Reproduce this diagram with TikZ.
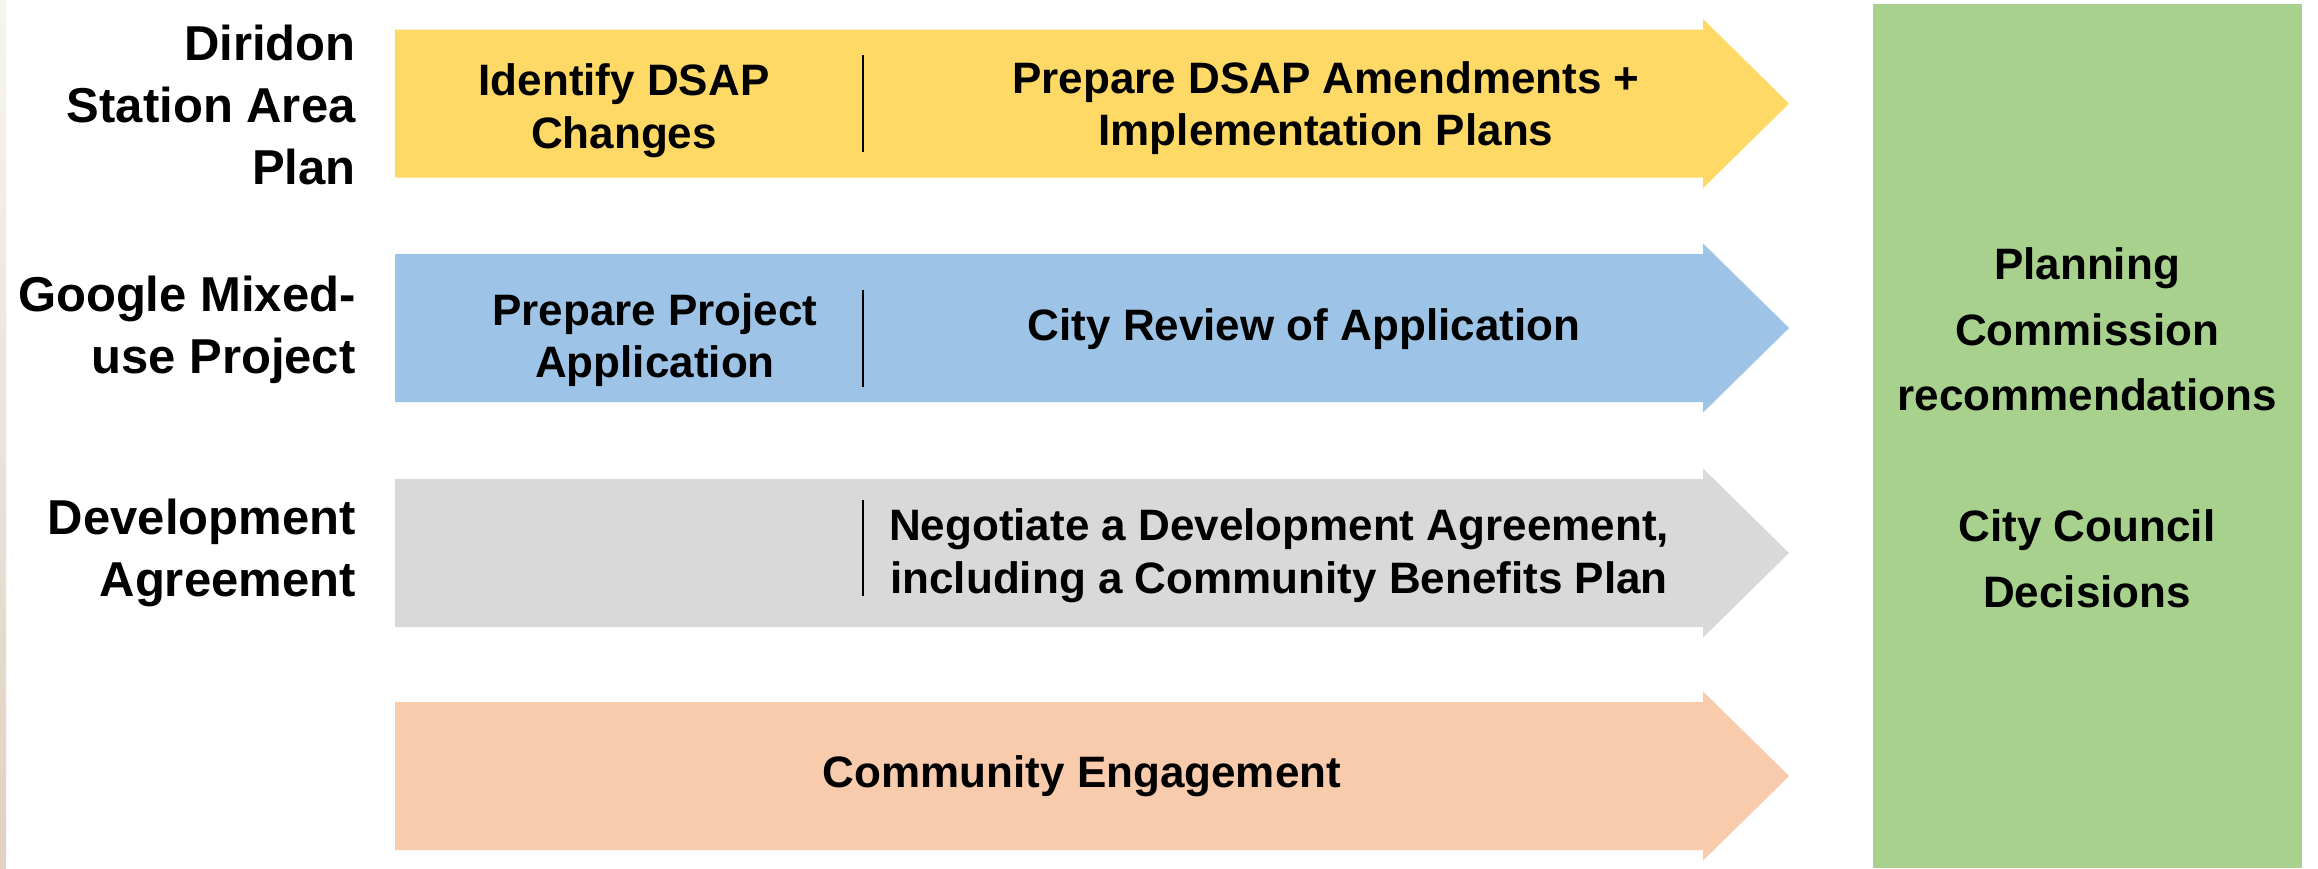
\documentclass[tikz,border=0pt]{standalone}
\usepackage{fontspec}
\setmainfont{Liberation Sans}
\definecolor{ylw}{HTML}{FFD966}
\definecolor{blu}{HTML}{9DC3E6}
\definecolor{gry}{HTML}{D9D9D9}
\definecolor{org}{HTML}{F8CBAD}
\definecolor{grn}{HTML}{A9D18E}
\definecolor{stripA}{HTML}{F7F4F0}
\definecolor{stripB}{HTML}{E0D1C2}
\begin{document}
\begin{tikzpicture}[x=0.5pt,y=-0.5pt,
  lbl/.style={font=\fontsize{24.5}{30.8}\selectfont\bfseries, align=right, anchor=east, inner sep=0pt},
  txt/.style={font=\fontsize{22}{26.3}\selectfont\bfseries, align=center, inner sep=0pt},
  dectxt/.style={font=\fontsize{22}{32.75}\selectfont\bfseries, align=center, inner sep=0pt},
  divider/.style={line width=1.25pt, black}]
\fill[white] (0,0) rectangle (2318,868);
\useasboundingbox (0,0) rectangle (2318,868);
\shade[top color=stripA, bottom color=stripB] (0,0) rectangle (6,868);
% arrows
\foreach \t/\c in {29.6/ylw, 254/blu, 479/gry, 702/org} {
  \fill[\c] (395,\t) -- (1703,\t) -- (1703,{\t-10.6}) -- (1789,{\t+74}) -- (1703,{\t+158.6}) -- (1703,{\t+148}) -- (395,{\t+148}) -- cycle;
}
% decision box
\fill[grn] (1873,4) rectangle (2302,868);
% dividers
\draw[divider] (863,55) -- (863,152);
\draw[divider] (863,290) -- (863,387);
\draw[divider] (863,500) -- (863,596);
% row labels
\node[lbl] (dsap) at (356,105) {Diridon\\Station Area\\Plan};
\node[lbl] (google) at (356,330) {Google Mixed-\\use Project};
\node[lbl] (devagr) at (356,553) {Development\\Agreement};
% arrow texts
\node[txt] (identify) at (624,111) {Identify DSAP\\Changes};
\node[txt] (amend) at (1326,108) {Prepare DSAP Amendments +\\Implementation Plans};
\node[txt] (prepproj) at (655,340) {Prepare Project\\Application};
\node[txt] (review) at (1304,329) {City Review of Application};
\node[txt] (negotiate) at (1279,556) {Negotiate a Development Agreement,\\including a Community Benefits Plan};
\node[txt] (community) at (1082,776) {Community Engagement};
% decisions
\node[dectxt] (decide) at (2087,428) {Planning\\Commission\\recommendations\\[32.75pt]City Council\\Decisions};
\end{tikzpicture}
\end{document}
